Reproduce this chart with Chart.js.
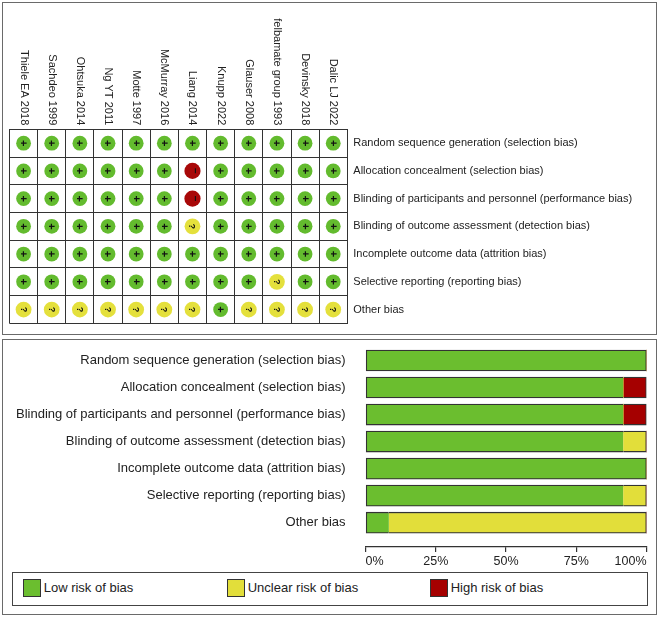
<!DOCTYPE html>
<html>
<head>
<meta charset="utf-8">
<script src="https://cdn.jsdelivr.net/npm/chart.js@4.4.1/dist/chart.umd.min.js"></script>
<style>
html,body{margin:0;padding:0;background:#fff;}
body{width:659px;height:617px;position:relative;overflow:hidden;font-family:"Liberation Sans",Arial,sans-serif;}
.panel{position:absolute;border:1.3px solid #6a6a6a;box-sizing:border-box;}
#p1{left:2px;top:2px;width:655px;height:333px;}
#p2{left:2px;top:339px;width:655px;height:276px;}
#c1{position:absolute;left:0;top:0;}
#c2{position:absolute;left:0;top:339px;}
#legend{position:absolute;left:12px;top:572px;width:636px;height:34px;border:1.3px solid #444;box-sizing:border-box;}
.item{position:absolute;top:5.7px;height:18px;display:flex;align-items:center;font-size:13px;color:#222;white-space:nowrap;}
.item:nth-child(1){left:9.7px;}
.item:nth-child(2){left:213.7px;}
.item:nth-child(3){left:416.7px;}
.sw{width:18px;height:18px;box-sizing:border-box;border:1px solid #333;margin-right:3px;flex:none;}
</style>
</head>
<body>
<div class="panel" id="p1"></div>
<div class="panel" id="p2"></div>
<canvas id="c1" width="659" height="336"></canvas>
<canvas id="c2" width="659" height="232"></canvas>
<div id="legend"></div>
<script>
// ---------- data ----------
const studies = ['Thiele EA 2018','Sachdeo 1999','Ohtsuka 2014','Ng YT 2011','Motte 1997','McMurray 2016',
                 'Liang 2014','Knupp 2022','Glauser 2008','felbamate group 1993','Devinsky 2018','Dalic LJ 2022'];
const domains = ['Random sequence generation (selection bias)',
                 'Allocation concealment (selection bias)',
                 'Blinding of participants and personnel (performance bias)',
                 'Blinding of outcome assessment (detection bias)',
                 'Incomplete outcome data (attrition bias)',
                 'Selective reporting (reporting bias)',
                 'Other bias'];
// judgements per domain, one entry per study ('+' low, '?' unclear, '-' high)
const randomSequence   = ['+','+','+','+','+','+','+','+','+','+','+','+'];
const allocation       = ['+','+','+','+','+','+','-','+','+','+','+','+'];
const blindingPartic   = ['+','+','+','+','+','+','-','+','+','+','+','+'];
const blindingOutcome  = ['+','+','+','+','+','+','?','+','+','+','+','+'];
const incompleteData   = ['+','+','+','+','+','+','+','+','+','+','+','+'];
const selectiveReport  = ['+','+','+','+','+','+','+','+','+','?','+','+'];
const otherBias        = ['?','?','?','?','?','?','?','+','?','?','?','?'];
const judgements = [randomSequence, allocation, blindingPartic, blindingOutcome, incompleteData, selectiveReport, otherBias];

// percentage of studies per domain
const lowRisk     = [100, 91.7, 91.7, 91.7, 100, 91.7, 8.3];
const unclearRisk = [0, 0, 0, 8.3, 0, 8.3, 91.7];
const highRisk    = [0, 8.3, 8.3, 0, 0, 0, 0];
const seriesNames = ['Low risk of bias','Unclear risk of bias','High risk of bias'];
const xTicks = [0, 25, 50, 75, 100];

// ---------- styles ----------
const barColors = ['#6bbe2f', '#e2de3a', '#a50000'];
const dotColors = {'+':'#63bb2e', '?':'#e4e03c', '-':'#a80808'};
const dotRadius = {'+':7.4, '?':7.9, '-':8.1};
const FONT = '"Liberation Sans", Arial, sans-serif';
Chart.defaults.font.family = FONT;
Chart.defaults.color = '#222';

// ---------- top: summary ----------
const cells = [];
domains.forEach((d, di) => studies.forEach((s, si) => cells.push({x: s, y: d, j: judgements[di][si]})));

const headerPlugin = {
  id: 'headers',
  afterDraw(chart) {
    const ctx = chart.ctx, xs = chart.scales.x, top = chart.chartArea.top;
    ctx.save();
    ctx.font = '11px ' + FONT;
    ctx.fillStyle = '#222';
    ctx.textAlign = 'right';
    ctx.textBaseline = 'middle';
    studies.forEach((s, i) => {
      ctx.save();
      ctx.translate(xs.getPixelForValue(i), top - 4);
      ctx.rotate(Math.PI / 2);
      ctx.fillText(s, 0, 0);
      ctx.restore();
    });
    ctx.restore();
  }
};
const symbolPlugin = {
  id: 'symbols',
  afterDatasetsDraw(chart) {
    const ctx = chart.ctx;
    const meta = chart.getDatasetMeta(0);
    meta.data.forEach((pt, i) => {
      const j = cells[i].j;
      ctx.save();
      ctx.translate(pt.x, pt.y);
      ctx.rotate(Math.PI / 2);
      ctx.fillStyle = '#111';
      ctx.textAlign = 'center';
      ctx.textBaseline = 'middle';
      if (j === '+') { ctx.font = 'bold 11px ' + FONT; ctx.fillText('+', 0, 0.5); }
      else if (j === '?') { ctx.font = 'bold 9px ' + FONT; ctx.fillText('?', 0, 0.5); }
      else { ctx.font = 'bold 10px ' + FONT; ctx.fillText('\u2212', 0, -2); }
      ctx.restore();
    });
  }
};

new Chart(document.getElementById('c1'), {
  type: 'scatter',
  data: { datasets: [{
    data: cells,
    pointRadius: c => dotRadius[c.raw.j],
    pointHoverRadius: c => dotRadius[c.raw.j],
    pointBackgroundColor: c => dotColors[c.raw.j],
    pointBorderWidth: 0
  }]},
  options: {
    responsive: false, animation: false, events: [],
    plugins: { legend: {display: false}, tooltip: {enabled: false} },
    layout: { padding: {top: 129.3, left: 9.5, bottom: 10, right: 0} },
    scales: {
      x: { type: 'category', labels: studies, position: 'top', offset: true,
           grid: {offset: true, color: '#333', lineWidth: 1, drawTicks: false},
           border: {display: true, color: '#333', width: 1},
           ticks: {display: false} },
      y: { type: 'category', labels: domains, position: 'right', offset: true,
           grid: {offset: true, color: '#333', lineWidth: 1, drawTicks: false},
           border: {display: true, color: '#333', width: 1},
           ticks: {font: {size: 11}, color: '#222', padding: 6},
           afterFit: s => { s.width = 311.7; } }
    }
  },
  plugins: [headerPlugin, symbolPlugin]
});

// ---------- bottom: graph ----------
const series = [lowRisk, unclearRisk, highRisk];
const bw = 1.3;
function borderFor(ctx) {
  const i = ctx.dataIndex, d = ctx.datasetIndex;
  const vals = series.map(s => s[i]);
  if (!vals[d]) return 0;
  let first = -1, last = -1;
  vals.forEach((v, k) => { if (v > 0) { if (first < 0) first = k; last = k; } });
  return {top: bw, bottom: bw, left: d === first ? bw : 0, right: d === last ? bw : 0};
}

new Chart(document.getElementById('c2'), {
  type: 'bar',
  data: { datasets: series.map((s, k) => ({
    label: seriesNames[k],
    data: s.map((v, i) => ({x: v, y: i})),
    backgroundColor: barColors[k],
    borderColor: '#333',
    borderWidth: borderFor,
    borderSkipped: false,
    barThickness: 21
  }))},
  options: {
    indexAxis: 'y',
    responsive: false, animation: false, events: [],
    plugins: { legend: {display: false}, tooltip: {enabled: false} },
    layout: { padding: {top: 8, left: 0, right: 12.5, bottom: 0} },
    scales: {
      x: { type: 'linear', min: 0, max: 100, stacked: true, position: 'bottom', offset: false,
           afterBuildTicks: s => { s.ticks = xTicks.map(v => ({value: v})); },
           ticks: {callback: v => v + '%', align: 'inner', font: {size: 12.5}, color: '#222', padding: 2},
           grid: {drawOnChartArea: false, drawTicks: true, tickLength: 5, color: '#333', lineWidth: 1.2, offset: false},
           border: {display: true, color: '#333', width: 1.2},
           afterFit: s => { s.height = 24; s.paddingLeft = 0; s.paddingRight = 0; } },
      y: { type: 'linear', min: -0.5, max: 6.9, reverse: true, stacked: true, offset: false,
           afterBuildTicks: s => { s.ticks = domains.map((_, i) => ({value: i})); },
           ticks: {callback: v => domains[v], font: {size: 13}, color: '#222', padding: 20, autoSkip: false},
           grid: {display: false, offset: false, drawTicks: false}, border: {display: false},
           afterFit: s => { s.width = 365.5; s.paddingTop = 0; s.paddingBottom = 0; } }
    }
  }
});

// ---------- legend ----------
const lg = document.getElementById('legend');
seriesNames.forEach((n, k) => {
  const it = document.createElement('div');
  it.className = 'item';
  const sw = document.createElement('div');
  sw.className = 'sw';
  sw.style.background = barColors[k];
  const tx = document.createElement('span');
  tx.textContent = n;
  it.appendChild(sw); it.appendChild(tx);
  lg.appendChild(it);
});
</script>
</body>
</html>
